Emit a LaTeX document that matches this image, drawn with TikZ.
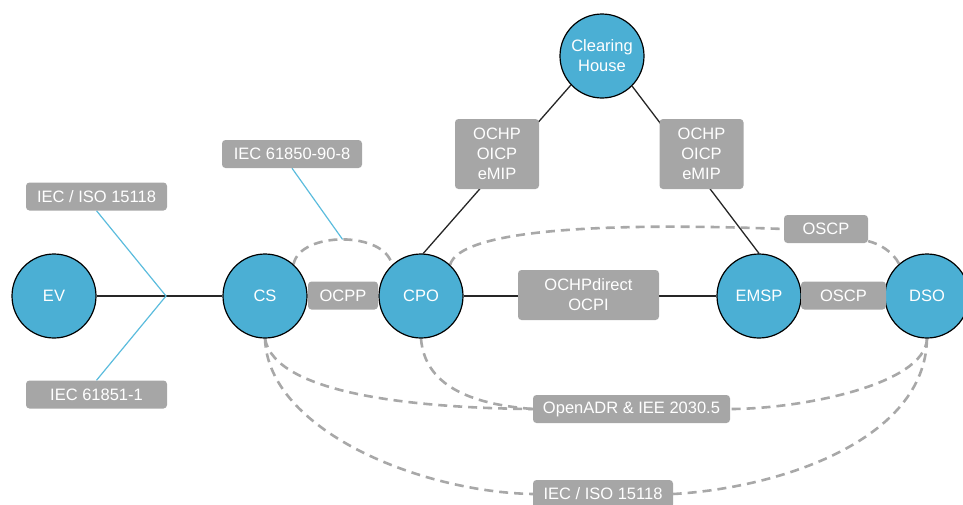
\documentclass[tikz,border=0pt]{standalone}
\usepackage{fontspec}
\setmainfont{Liberation Sans}
\usetikzlibrary{backgrounds}
\definecolor{nodeblue}{HTML}{4BAFD4}
\definecolor{tagGray}{HTML}{A6A6A6}
\definecolor{dashGray}{HTML}{A8A8A8}
\definecolor{leadBlue}{HTML}{5BBCDD}
\begin{document}
\begin{tikzpicture}[x=1pt,y=-1pt,
  actor/.style={circle,draw=black,line width=1.2pt,fill=nodeblue,minimum size=84pt,
    inner sep=0pt,text=white,font=\fontsize{16.5}{20}\selectfont,align=center},
  tag/.style={rectangle,rounded corners=3.5pt,fill=tagGray,text=white,
    font=\fontsize{16.5}{20}\selectfont,align=center,inner sep=0pt,minimum height=28pt},
  link/.style={draw=black!85,line width=1.3pt},
  proto/.style={draw=dashGray,line width=2.6pt,dash pattern=on 9pt off 6pt},
  lead/.style={draw=leadBlue,line width=1.2pt}]
\useasboundingbox (0,0) rectangle (963,504);

% actors
\node[actor] (ev)   at (54,296)  {EV};
\node[actor] (cs)   at (265,296) {CS};
\node[actor] (cpo)  at (421,296) {CPO};
\node[actor] (ch)   at (602,56)  {Clearing\\House};
\node[actor] (emsp) at (759,296) {EMSP};
\node[actor] (dso)  at (927,296) {DSO};

% protocol tags
\node[tag,minimum width=141pt] (isoA)   at (96.5,196.5) {IEC / ISO 15118};
\node[tag,minimum width=141pt] (iecA)   at (96.5,394.5) {IEC 61851-1};
\node[tag,minimum width=140pt] (iecB)   at (292,154)    {IEC 61850-90-8};
\node[tag,minimum width=70pt]  (ocpp)   at (343,295.5)  {OCPP};
\node[tag,minimum width=84pt,minimum height=70pt] (chL) at (497,154)   {OCHP\\OICP\\eMIP};
\node[tag,minimum width=84pt,minimum height=70pt] (chR) at (701.5,154) {OCHP\\OICP\\eMIP};
\node[tag,minimum width=141pt,minimum height=50pt] (roam) at (588.5,295) {OCHPdirect\\OCPI};
\node[tag,minimum width=84pt]  (oscpT)  at (826,229)    {OSCP};
\node[tag,minimum width=85pt]  (oscpB)  at (843.5,295.5){OSCP};
\node[tag,minimum width=197pt] (adr)    at (631.5,409)  {OpenADR \& IEE 2030.5};
\node[tag,minimum width=140pt] (isoB)   at (603,494)    {IEC / ISO 15118};

\coordinate (j) at (166,296);

\begin{scope}[on background layer]
  % dashed protocol relations
  \draw[proto] (cs.48) .. controls (300,231) and (385,231) .. coordinate[pos=0.5] (peak) (cpo.133);
  \draw[proto] (cpo.47) .. controls (460,230) and (600,222) .. (oscpT.west);
  \draw[proto] (oscpT.-16) .. controls (880,244) and (893,252) .. (dso.131);
  \draw[proto] (cs.south) .. controls (275,395) and (420,408) .. (adr.west);
  \draw[proto] (cpo.south) .. controls (425,390) and (480,405) .. (adr.west);
  \draw[proto] (dso.south) .. controls (925,385) and (800,409) .. (adr.east);
  \draw[proto] (cs.south) .. controls (268,430) and (420,492) .. (isoB.west);
  \draw[proto] (dso.south) .. controls (925,440) and (780,488) .. (isoB.east);
  % solid links
  \draw[link] (ev) -- (cs);
  \draw[link] (cs) -- (cpo);
  \draw[link] (cpo) -- (emsp);
  \draw[link] (emsp) -- (dso);
  \draw[link] (cpo.87) -- (ch.223);
  \draw[link] (ch.-45) -- (emsp.north);
  % leader lines
  \draw[lead] (isoA.south) -- (j) -- (iecA.north);
  \draw[lead] (iecB.south) -- (peak);
\end{scope}
\end{tikzpicture}
\end{document}
